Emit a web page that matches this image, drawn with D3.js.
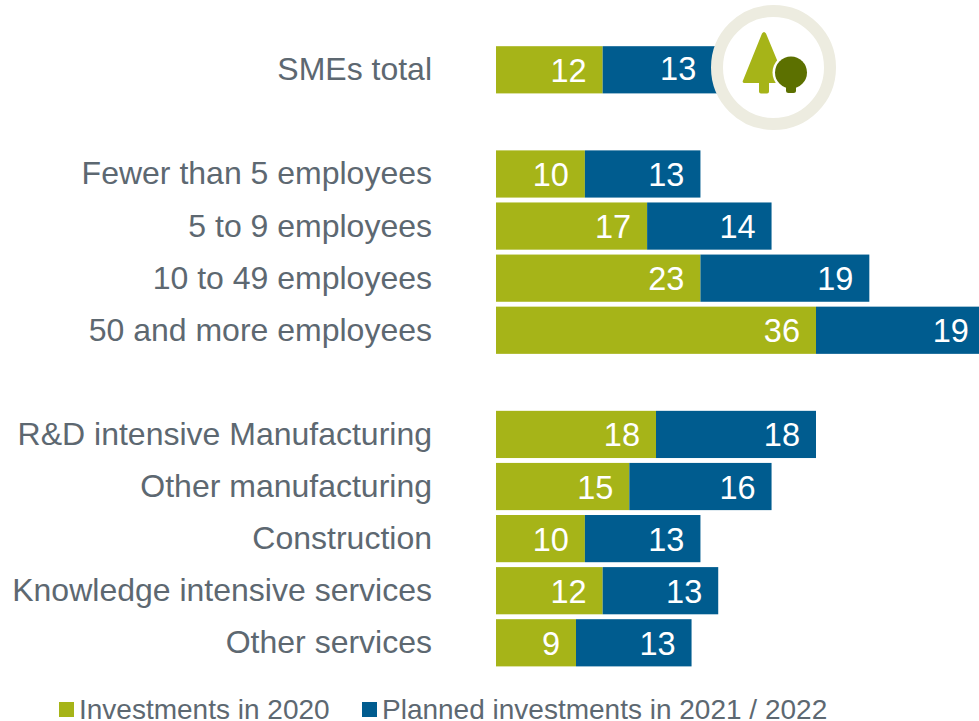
<!DOCTYPE html>
<html>
<head>
<meta charset="utf-8">
<script src="https://cdn.jsdelivr.net/npm/d3@7"></script>
<style>
html,body{margin:0;padding:0;background:#fff;overflow:hidden}
svg{display:block}
text{font-family:"Liberation Sans",Arial,sans-serif}
</style>
</head>
<body>
<div id="chart"></div>
<script>
// Row order; empty slots separate the three groups of firms
const categories = ["SMEs total","gap1","Fewer than 5 employees","5 to 9 employees","10 to 49 employees","50 and more employees","gap2","R&D intensive Manufacturing","Other manufacturing","Construction","Knowledge intensive services","Other services"];
const investments2020 = [12,null,10,17,23,36,null,18,15,10,12,9];
const planned2021 = [13,null,13,14,19,19,null,18,16,13,13,13];
const seriesNames = ["Investments in 2020","Planned investments in 2021 / 2022"];
const seriesColors = ["#a6b418","#005c8f"];

const W = 979, H = 721;
const svg = d3.select("#chart").append("svg").attr("width",W).attr("height",H);

const x = d3.scaleLinear().domain([0,36]).range([496,816]);
const rowStep = 52.09, rowGap = 4.89;
const y = d3.scaleBand().domain(categories)
  .range([46.2,46.2+rowStep*categories.length-rowGap])
  .paddingInner(rowGap/rowStep).paddingOuter(0).align(0);

const textGrey = "#5d6871";

const rows = categories.map((c,i)=>({c,a:investments2020[i],b:planned2021[i]})).filter(r=>r.a!==null);

// Stacked segments
const seg = svg.append("g");
rows.forEach(r=>{
  seg.append("rect").attr("x",x(0)).attr("y",y(r.c)).attr("width",x(r.a)-x(0)).attr("height",y.bandwidth()).attr("fill",seriesColors[0]);
  seg.append("rect").attr("x",x(r.a)).attr("y",y(r.c)).attr("width",x(r.a+r.b)-x(r.a)).attr("height",y.bandwidth()).attr("fill",seriesColors[1]);
});

// Category labels
svg.append("g").selectAll("text").data(rows).join("text")
  .attr("x",432).attr("y",r=>y(r.c)+y.bandwidth()/2+10.5)
  .attr("text-anchor","end").attr("font-size",32).attr("fill",textGrey)
  .text(r=>r.c);

// Value labels sit inside the end of each segment
const valueLabels = svg.append("g").attr("fill","#fff").attr("font-size",32.5).attr("text-anchor","end");
rows.forEach(r=>{
  const yy = y(r.c)+y.bandwidth()/2+12;
  valueLabels.append("text").attr("x",x(r.a)-16).attr("y",yy).text(r.a);
  // the total row's second label is nudged clear of the badge
  const nudged = r.c==="SMEs total";
  valueLabels.append("text").attr("x",x(r.a+r.b)-16-(nudged?6:0)).attr("y",yy-(nudged?2:0)).text(r.b);
});

// Badge with two trees
const badge = svg.append("g").attr("transform","translate(773.5,67.5)");
badge.append("circle").attr("r",56.5).attr("fill","#fff").attr("stroke","#edece0").attr("stroke-width",12);
badge.append("path").attr("fill","#a6b418")
  .attr("d","M-11.5,-34 Q-9.5,-37 -7.5,-34 L12,13 Q13,15.5 11,15.5 L-4.5,15.5 L-4.5,24 Q-4.5,26 -6.5,26 L-12.5,26 Q-14.5,26 -14.5,24 L-14.5,15.5 L-29.5,15.5 Q-31.5,15 -30.5,13 Z");
badge.append("circle").attr("cx",17.5).attr("cy",5).attr("r",18.5).attr("fill","#fff");
badge.append("circle").attr("cx",17.5).attr("cy",5).attr("r",16).attr("fill","#5c7000");
badge.append("path").attr("fill","#5c7000").attr("d","M12.5,15 L22.5,15 L22.5,23 Q22.5,25.5 20,25.5 L15,25.5 Q12.5,25.5 12.5,23 Z");

// Legend
const legend = svg.append("g");
[[59,79],[362,382]].forEach((p,i)=>{
  legend.append("rect").attr("x",p[0]).attr("y",702).attr("width",15).attr("height",15).attr("fill",seriesColors[i]);
  legend.append("text").attr("x",p[1]).attr("y",719.3).attr("font-size",28).attr("fill",textGrey).text(seriesNames[i]);
});
</script>
</body>
</html>
